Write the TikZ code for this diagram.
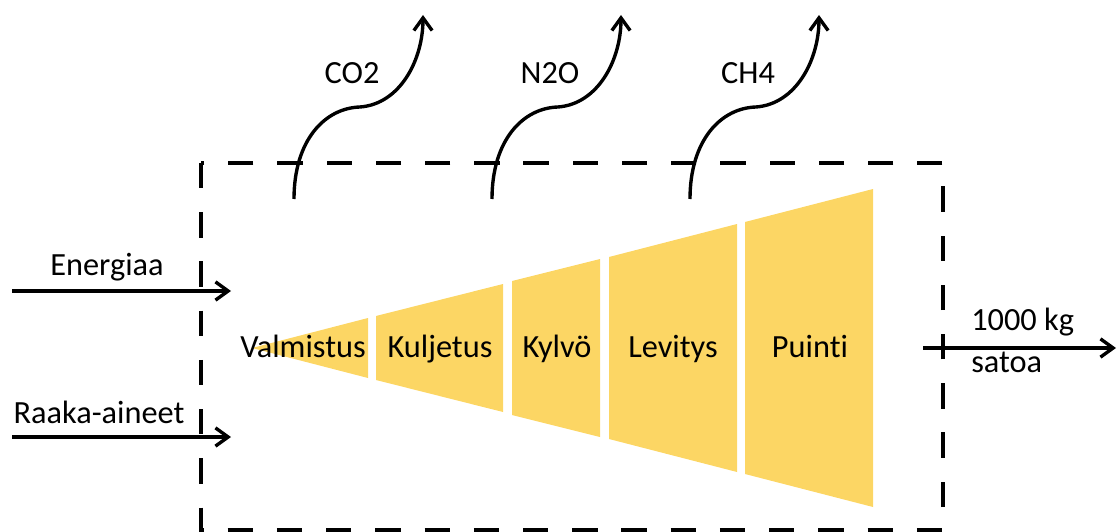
\documentclass[tikz,border=0pt]{standalone}
\usepackage{fontspec}
\setmainfont{Carlito}[Ligatures=NoCommon]
\usetikzlibrary{arrows.meta}
\definecolor{kelta}{RGB}{252,214,100}

\begin{document}
\begin{tikzpicture}[x=0.025cm,y=-0.025cm,
        raja/.style={line width=2.4pt,dash pattern=on 18pt off 17pt},
        nuoli/.style={line width=2.4pt,-{Straight Barb[length=9pt,width=13pt]}},
        vaihe/.style={fill=kelta},
        teksti/.style={inner sep=0pt,anchor=base}
        ]
        \fontsize{23}{27}\selectfont
        \useasboundingbox (0,0) rectangle (1119,532);
        % jarjestelman raja
        \draw[raja] (201,163) rectangle (943,530);
        % vaiheet
        \fill[vaihe] (252,348) -- (368,318) -- (368,378) -- cycle;
        \fill[vaihe] (376,316) -- (503,284) -- (503,412) -- (376,380) -- cycle;
        \fill[vaihe] (512,281) -- (600,259) -- (600,437) -- (512,415) -- cycle;
        \fill[vaihe] (609,257) -- (737,224) -- (737,472) -- (609,439) -- cycle;
        \fill[vaihe] (745,222) -- (873,189) -- (873,507) -- (745,474) -- cycle;
        \node (valm) [teksti] at (303,357) {Valmistus};
        \node (kulj) [teksti] at (440,357) {Kuljetus};
        \node (kylvo) [teksti] at (557,357) {Kylvö};
        \node (levi) [teksti] at (673,357) {Levitys};
        \node (puin) [teksti] at (810,357) {Puinti};
        % sisaan
        \coordinate (en0) at (12,291);
        \coordinate (en1) at (231,291);
        \draw[nuoli] (en0) -- (en1);
        \node (energ) [teksti] at (107,275) {Energiaa};
        \coordinate (ra0) at (12,437);
        \coordinate (ra1) at (231,437);
        \draw[nuoli] (ra0) -- (ra1);
        \node (raaka) [teksti] at (99,423) {Raaka-aineet};
        % ulos
        \coordinate (ul0) at (923,348);
        \coordinate (ul1) at (1116,348);
        \draw[nuoli] (ul0) -- (ul1);
        \node (kg) [teksti,anchor=base west] at (971,330) {1000 kg};
        \node (satoa) [teksti,anchor=base west] at (971,372) {satoa};
        % paastot
        \coordinate (co2a) at (294,199);
        \coordinate (co2b) at (423,15);
        \draw[nuoli] (co2a) .. controls (294,140) and (325,108) .. (360,107)
            .. controls (400,104) and (423,60) .. (co2b);
        \node (co2) [teksti] at (352,83) {CO2};
        \coordinate (n2oa) at (492,199);
        \coordinate (n2ob) at (621,15);
        \draw[nuoli] (n2oa) .. controls (492,140) and (523,108) .. (558,107)
            .. controls (598,104) and (621,60) .. (n2ob);
        \node (n2o) [teksti] at (550,83) {N2O};
        \coordinate (ch4a) at (690,199);
        \coordinate (ch4b) at (819,15);
        \draw[nuoli] (ch4a) .. controls (690,140) and (721,108) .. (756,107)
            .. controls (796,104) and (819,60) .. (ch4b);
        \node (ch4) [teksti] at (748,83) {CH4};
\end{tikzpicture}
\end{document}
